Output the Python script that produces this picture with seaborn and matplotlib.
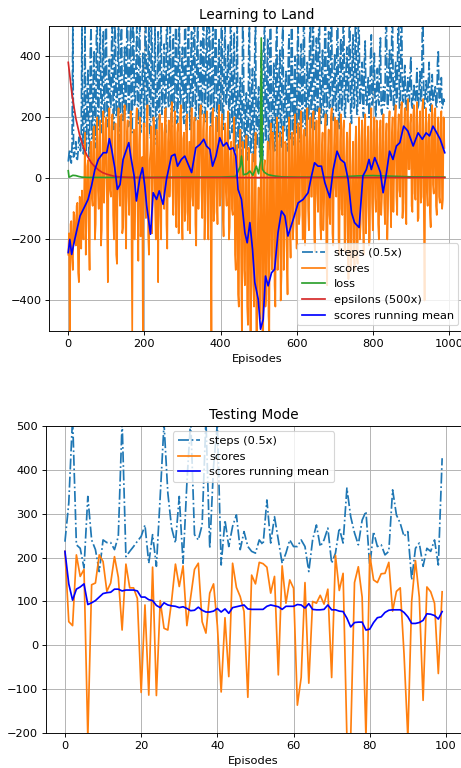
import matplotlib
matplotlib.use("agg")
import matplotlib.pyplot as plt
import numpy as np
import seaborn as sns

# ---- training run (every 2nd episode) ----
train_ep = np.arange(0, 990, 2)

train_steps = [
    55, 80, 95, 60, 50, 110, 500, 70, 75, 100, 120, 65, 62, 90, 135, 110, 90, 130, 500, 140,
    80, 250, 500, 90, 110, 300, 360, 70, 95, 420, 500, 130, 140, 350, 420, 100, 120, 480, 500, 160,
    180, 400, 500, 230, 150, 380, 480, 200, 210, 500, 500, 170, 170, 320, 390, 250, 230, 450, 500, 190,
    160, 500, 460, 200, 220, 350, 500, 130, 120, 450, 500, 230, 190, 300, 430, 210, 240, 500, 500, 170,
    200, 420, 500, 180, 150, 500, 470, 240, 260, 380, 500, 200, 180, 460, 500, 150, 220, 330, 410, 250,
    170, 500, 500, 220, 240, 420, 500, 160, 130, 500, 450, 190, 210, 380, 500, 140, 110, 330, 480, 200,
    190, 460, 500, 210, 250, 350, 440, 170, 150, 500, 500, 260, 230, 420, 500, 200, 170, 400, 470, 220,
    240, 500, 500, 180, 200, 460, 500, 240, 260, 370, 430, 210, 180, 500, 500, 160, 220, 440, 500, 250,
    160, 390, 480, 230, 250, 500, 500, 190, 210, 420, 500, 260, 190, 360, 450, 210, 240, 500, 500, 180,
    200, 430, 500, 240, 230, 500, 470, 170, 180, 440, 500, 220, 250, 500, 500, 190, 150, 380, 460, 230,
    220, 500, 500, 160, 180, 420, 500, 250, 240, 360, 440, 200, 130, 500, 500, 150, 170, 390, 480, 110,
    90, 380, 500, 100, 120, 280, 330, 80, 70, 500, 450, 120, 100, 250, 280, 70, 60, 420, 500, 90,
    80, 300, 360, 60, 55, 420, 500, 100, 110, 240, 300, 80, 70, 380, 420, 60, 95, 460, 500, 120,
    130, 350, 460, 100, 90, 500, 500, 160, 150, 300, 380, 90, 110, 440, 500, 130, 140, 360, 420, 100,
    100, 460, 500, 150, 160, 300, 350, 110, 90, 400, 470, 140, 130, 500, 500, 120, 110, 330, 400, 160,
    150, 440, 500, 130, 120, 380, 440, 180, 170, 500, 500, 150, 140, 320, 380, 200, 190, 460, 500, 160,
    200, 500, 500, 170, 160, 400, 460, 220, 230, 500, 500, 190, 180, 360, 420, 200, 210, 500, 500, 170,
    170, 410, 480, 230, 240, 500, 500, 200, 190, 350, 410, 240, 220, 500, 500, 180, 160, 390, 460, 220,
    230, 500, 500, 210, 200, 370, 430, 260, 250, 500, 500, 200, 180, 410, 470, 230, 240, 500, 500, 210,
    210, 500, 500, 240, 260, 320, 380, 220, 200, 390, 450, 250, 240, 280, 330, 200, 220, 400, 470, 240,
    250, 360, 410, 230, 200, 300, 360, 260, 240, 400, 460, 220, 210, 260, 300, 240, 260, 500, 500, 230,
    230, 360, 420, 260, 250, 500, 500, 240, 220, 330, 380, 250, 260, 500, 500, 230, 240, 500, 500, 260,
    250, 320, 370, 240, 220, 290, 330, 250, 260, 350, 400, 240, 230, 270, 310, 260, 250, 300, 360, 230,
    240, 300, 350, 250, 260, 500, 500, 240, 230, 280, 320, 260, 250, 330, 380, 230, 220, 290, 340, 250,
    260, 280, 300, 240, 230, 380, 420, 260, 250, 290, 330, 230, 240, 260, 250,
]

train_scores = [
    -250, -180, -500, -150, -140, -260, -300, -110, -120, -200, -220, -90, -80, -310, -340, -60, -100, -230, -40, -150,
    -200, -20, 150, -250, -120, 40, 60, -180, -300, 100, 120, -60, -90, 160, 170, -200, -150, 80, 200, -40,
    -100, 130, 190, -220, -170, 60, 220, -80, 20, 180, 200, -150, -340, 90, 230, -40, -60, 170, 210, -120,
    -200, 40, 180, -250, -280, 120, 230, -30, -90, 200, 210, -180, -160, 60, 240, -120, -230, 150, 190, -60,
    -120, 100, 220, -160, -500, 40, 160, -200, -60, 190, 230, -80, -270, 110, 200, -190, -150, 70, -500, 180,
    180, -60, -130, 140, 240, -190, -250, 60, 90, 170, -180, -40, 200, 130, -90, -200, 160, 50, -340, 100,
    210, -120, -200, 180, 150, -40, -100, 220, 230, -150, -230, 120, 190, -60, 20, 200, 250, -40, -120, 170,
    220, -80, -160, 150, 180, -180, -60, 210, 240, -110, -200, 130, 150, -140, -110, 190, 210, -170, -30, 120,
    -180, 100, 230, -60, -90, 180, 200, -150, -220, 60, 190, -100, 30, 210, 240, -40, -130, 160, 210, -200,
    -70, 140, 220, -130, -200, 90, 170, -60, -500, 200, 230, -140, -110, 120, 200, -50, -150, 180, 240, -90,
    -60, 170, 210, -120, -190, 90, 180, -40, -90, 150, 220, -200, -160, 60, 120, -100, -120, 130, 200, -250,
    -300, 50, 110, -380, -420, 80, 160, -250, -500, 120, 60, -300, -350, 20, 140, -420, -480, 100, 20, -500,
    -500, -60, 80, -350, -420, 40, 150, -500, -500, -150, -30, -380, -460, 100, 200, -500, -500, 30, 60, -420,
    -380, 20, 120, -450, -500, 90, 180, -250, -300, 150, 90, -350, -420, 60, 200, -300, -250, 120, 150, -400,
    -320, 80, 170, -300, -200, 120, 110, -250, -380, 90, 200, -150, -260, 130, 150, -200, -150, 160, 210, -100,
    -230, 120, 180, -150, -120, 200, 220, -60, -200, 140, 160, -220, -90, 180, 230, -100, -170, 120, 200, -60,
    -60, 170, 220, -190, -240, 110, 190, -50, -110, 200, 230, -150, -200, 90, 150, -170, -80, 160, 210, -250,
    -350, 80, 160, -120, -150, 200, 230, -180, -220, 100, 200, -30, -60, 190, 180, -200, -250, 120, 210, -100,
    -120, 160, 190, -240, -200, 70, 150, -150, -330, 120, 180, -300, -260, 40, 120, -200, -300, 110, 170, -250,
    -280, 90, 200, -200, -150, 130, 190, -120, -250, 160, 210, -180, -90, 120, 170, -220, -200, 150, 230, -80,
    -170, 150, 200, -60, -110, 190, 160, -150, -200, 100, 190, -120, -60, 170, 210, -80, -150, 120, 180, -200,
    -100, 180, 220, -50, -160, 140, 200, -110, 20, 200, 240, -60, -120, 150, 210, -40, -60, 220, 250, -130,
    -80, 160, 230, -100, -150, 210, 260, 30, 30, 180, 210, -90, -110, 200, 240, -50, -70, 190, 250, -140,
    -130, 170, 220, -80, -60, 230, 260, -100, -400, 150, 230, -40, -90, 180, 210, -110, -160, 200, 240, -20,
    -50, 210, 230, -90, -120, 150, 200, -60, -80, 180, 220, -100, -70, 200, 100,
]

mean_ep = [0, 4, 9, 17, 31, 44, 52, 61, 70, 79, 92, 101, 108, 114, 122, 129,
           136, 144, 153, 159, 164, 173, 179, 188, 195, 201, 206, 216, 223,
           232, 239, 249, 258, 271, 280, 287, 297, 306, 315, 324, 335, 346,
           356, 363, 372, 379, 388, 398, 407, 416, 424, 433, 440, 446, 455,
           464, 470, 477, 484, 490, 499, 505, 512, 518, 525, 534, 542, 551,
           560, 569, 577, 591, 604, 617, 630, 639, 647, 656, 665, 674, 687,
           696, 706, 715, 726, 735, 744, 752, 764, 774, 783, 790, 796, 805,
           814, 820, 827, 836, 844, 853, 862, 871, 881, 892, 906, 919, 930,
           940, 949, 958, 968, 977, 989]
mean_val = [-243, -200, -249, -200, -123, -90, -69, -25, 29, 62, 84, 84, 130,
            95, 35, -36, -20, 62, 95, 117, 73, 8, -74, 2, 35, -25, -90, -183,
            -47, -69, -41, -85, -3, 73, 79, 40, 62, 73, 46, 19, 100, 111, 128,
            106, 95, 40, 73, 133, 106, 117, 95, 100, 73, -36, -69, -178, -211,
            -145, -232, -341, -396, -494, -462, -320, -352, -309, -298, -178,
            -107, -123, -189, -134, -80, -69, -47, 8, 51, 40, 40, -14, -63, 29,
            89, 62, 51, -3, -112, -145, -161, 8, 29, 62, 29, 68, 40, 19, -47,
            19, 89, 62, 106, 117, 171, 155, 106, 149, 128, 149, 139, 171, 149,
            128, 84]

loss_ep = [0, 2, 6, 12, 20, 28, 36, 50, 100, 200, 300, 400, 440, 452, 455,
           460, 470, 477, 485, 494, 500, 505, 507, 510, 515, 525, 540, 560,
           600, 700, 760, 800, 850, 900, 989]
loss_val = [25, 4, 6, 10, 9, 6, 4, 3, 3, 3, 4, 4, 6, 40, 73, 12, 15, 24, 10,
            40, 15, 60, 460, 30, 20, 12, 8, 5, 4, 4, 8, 9, 7, 5, 4]

eps_ep = [0, 10, 20, 30, 40, 50, 60, 70, 80, 90, 100, 120, 140, 160, 200, 989]
eps_val = [380, 273, 196, 141, 101, 73, 52, 38, 27, 19, 14, 7, 4, 3, 2.5, 2.5]

# ---- testing run ----
test_ep = np.arange(100)
test_steps = [
    236, 324, 520, 229, 221, 176, 339, 240, 218, 168,
    240, 234, 234, 218, 248, 510, 202, 214, 225, 237,
    248, 274, 187, 252, 180, 339, 505, 347, 267, 233,
    339, 187, 369, 515, 252, 240, 274, 515, 221, 407,
    505, 183, 285, 225, 271, 297, 218, 259, 225, 214,
    210, 240, 229, 331, 233, 293, 240, 187, 210, 240,
    225, 225, 240, 225, 168, 240, 274, 225, 240, 267,
    187, 210, 267, 233, 358, 293, 256, 229, 285, 305,
    180, 259, 225, 229, 206, 214, 354, 297, 278, 248,
    259, 149, 221, 233, 180, 221, 214, 240, 183, 426,
]
test_scores = [
    214, 54, 45, 206, 157, 173, -210, 138, 142, 206,
    191, 123, 142, 202, 155, 35, 185, 131, 131, 107,
    -107, 92, -113, 178, -114, 102, 39, 35, 102, 185,
    134, 181, 45, 110, 173, 187, 54, 28, 119, 140,
    45, -106, 63, -71, 187, 132, 111, 77, -118, 160,
    140, 189, 186, 178, 119, 157, -67, 181, 96, 149,
    130, -136, -73, 143, -86, 100, 96, 114, 94, 128,
    -73, 205, 125, 164, -210, -210, 143, 179, 110, -210,
    206, 149, 143, 163, 164, 189, 78, 123, 131, -20,
    -210, 100, 193, 110, -125, 133, 122, 96, -64, 122,
]
test_mean = [
    214, 140, 103, 128, 133, 140, 93, 97, 102, 110,
    118, 120, 121, 128, 128, 124, 126, 126, 126, 124,
    110, 110, 104, 102, 91, 86, 97, 92, 90, 89,
    86, 88, 84, 79, 80, 87, 80, 76, 76, 78,
    84, 76, 83, 73, 86, 88, 90, 92, 83, 82,
    82, 82, 82, 89, 92, 90, 88, 82, 89, 89,
    89, 93, 92, 85, 95, 82, 81, 81, 82, 92,
    81, 81, 78, 77, 62, 42, 52, 53, 53, 35,
    37, 52, 63, 65, 75, 80, 81, 81, 81, 75,
    65, 50, 50, 52, 57, 72, 71, 68, 60, 77,
]

# the reference was drawn at a lower dpi than 96, text is a bit smaller
DPI = 82
fig = plt.figure(figsize=(461 / DPI, 768 / DPI), dpi=DPI)
ax1 = fig.add_axes([0.1072, 0.569, 0.8993, 0.3975])
ax2 = fig.add_axes([0.100, 0.0452, 0.900, 0.4005])

sns.lineplot(x=train_ep, y=train_steps, ax=ax1, color="#1f77b4", linestyle="-.",
             lw=1.5, label="steps (0.5x)")
sns.lineplot(x=train_ep, y=train_scores, ax=ax1, color="#ff7f0e", lw=1.5, label="scores")
sns.lineplot(x=loss_ep, y=loss_val, ax=ax1, color="#2ca02c", lw=1.5, label="loss")
sns.lineplot(x=eps_ep, y=eps_val, ax=ax1, color="#d62728", lw=1.5, label="epsilons (500x)")
sns.lineplot(x=mean_ep, y=mean_val, ax=ax1, color="blue", lw=1.5, label="scores running mean")
ax1.set_xlim(-49.5, 1039.5)
ax1.set_ylim(-500, 500)
ax1.set_xticks([0, 200, 400, 600, 800, 1000])
ax1.set_yticks([-400, -200, 0, 200, 400])
ax1.set_title("Learning to Land")
ax1.set_xlabel("Episodes")
ax1.grid(True, color="#b0b0b0", lw=0.8)
ax1.legend(loc="lower right")

sns.lineplot(x=test_ep, y=test_steps, ax=ax2, color="#1f77b4", linestyle="-.",
             lw=1.5, label="steps (0.5x)")
sns.lineplot(x=test_ep, y=test_scores, ax=ax2, color="#ff7f0e", lw=1.5, label="scores")
sns.lineplot(x=test_ep, y=test_mean, ax=ax2, color="blue", lw=1.5, label="scores running mean")
ax2.set_xlim(-4.95, 103.95)
ax2.set_ylim(-200, 500)
ax2.set_xticks([0, 20, 40, 60, 80, 100])
ax2.set_title("Testing Mode")
ax2.set_xlabel("Episodes")
ax2.grid(True, color="#b0b0b0", lw=0.8)
ax2.legend(loc="upper center")

fig.savefig("out.png", dpi=DPI)
